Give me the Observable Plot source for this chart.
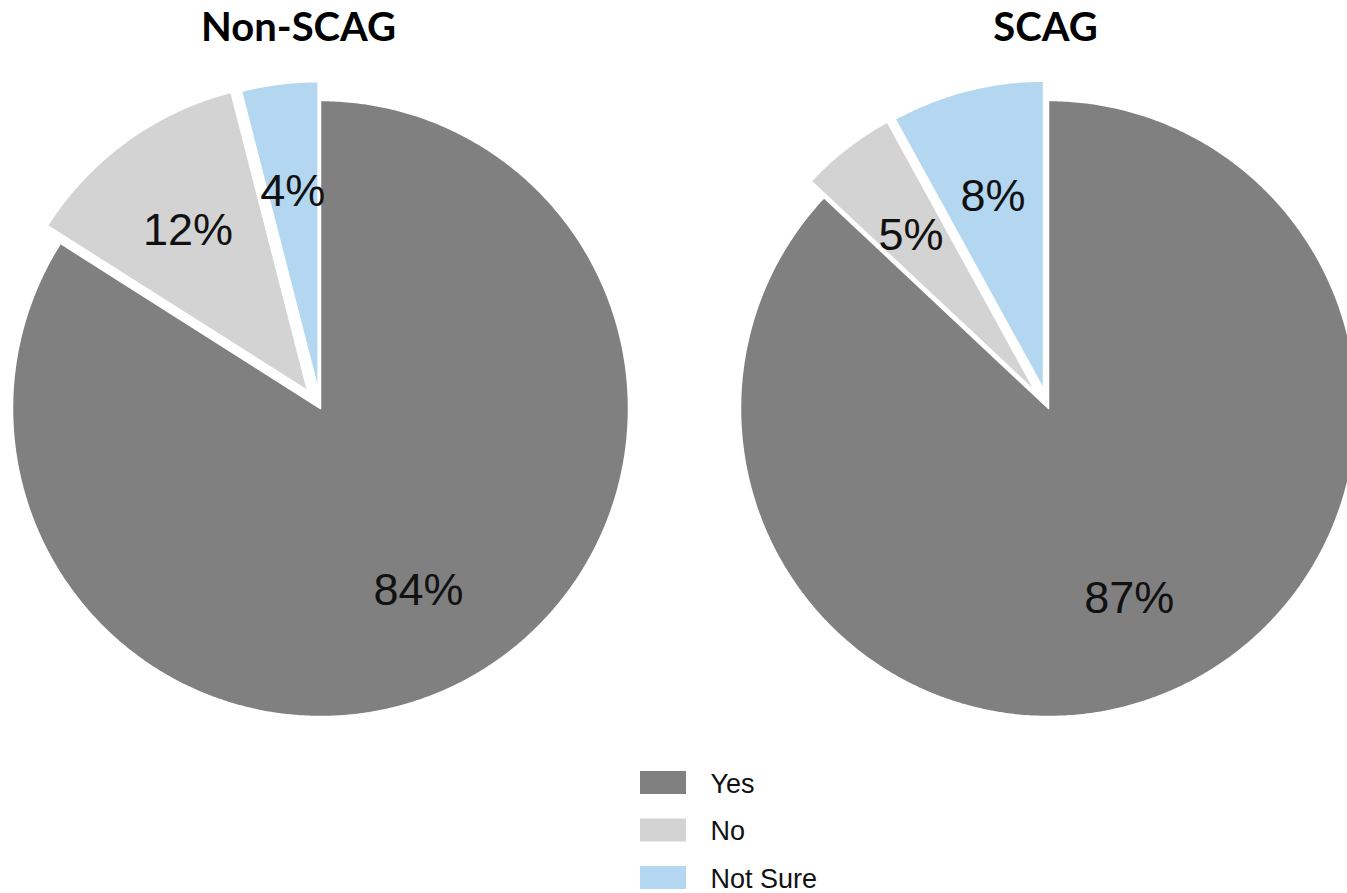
<!DOCTYPE html>
<html>
<head>
<meta charset="utf-8">
<script src="https://cdn.jsdelivr.net/npm/d3@7"></script>
<script src="https://cdn.jsdelivr.net/npm/@observablehq/plot@0.6"></script>
<style>
  html, body { margin: 0; padding: 0; background: #fff; }
  #chart svg { display: block; }
</style>
</head>
<body>
<div id="chart"></div>
<script>
// ---- data ----
const groups = ["Non-SCAG", "SCAG"];
const categories = ["Yes", "No", "Not Sure"];
const nonScagValues = [84, 12, 4];
const scagValues = [87, 5, 8];
const colors = ["#808080", "#d3d3d3", "#b3d7f0"];

// ---- layout ----
const W = 1347, H = 893;
const R = 308;
const centers = [[320, 408], [1048, 408]];
const explode = [[0, 22, 19], [0, 21, 20]];
const titleX = [298, 1045];
const titleY = 28;
const labelR = 0.66 * R;
const legendX = 640, legendW = 46, legendH = 23, legendTop = 771, legendStep = 47.5;

const seriesValues = [nonScagValues, scagValues];

// Build slice polygons
const slicePoints = [];
const sliceLabels = [];
groups.forEach((g, gi) => {
  const vals = seriesValues[gi];
  const total = d3.sum(vals);
  let acc = 0;
  vals.forEach((v, ci) => {
    const a0 = acc / total * 2 * Math.PI;
    const a1 = (acc + v) / total * 2 * Math.PI;
    acc += v;
    const mid = (a0 + a1) / 2;
    const off = explode[gi][ci];
    const cx = centers[gi][0] + off * Math.sin(mid);
    const cy = centers[gi][1] - off * Math.cos(mid);
    const key = g + "|" + categories[ci];
    slicePoints.push({key, cat: categories[ci], x: cx, y: cy});
    const n = Math.max(8, Math.ceil((a1 - a0) / (Math.PI / 360)));
    for (let i = 0; i <= n; i++) {
      const a = a0 + (a1 - a0) * i / n;
      slicePoints.push({key, cat: categories[ci], x: cx + R * Math.sin(a), y: cy - R * Math.cos(a)});
    }
    slicePoints.push({key, cat: categories[ci], x: cx, y: cy});
    sliceLabels.push({
      text: v + "%",
      x: cx + labelR * Math.sin(mid),
      y: cy - labelR * Math.cos(mid)
    });
  });
});

const titles = groups.map((g, i) => ({text: g, x: titleX[i], y: titleY}));
const legendItems = categories.map((c, i) => ({
  cat: c,
  x1: legendX, x2: legendX + legendW,
  y1: legendTop + i * legendStep, y2: legendTop + i * legendStep + legendH,
  tx: legendX + legendW + 24, ty: legendTop + i * legendStep + legendH / 2 + 1
}));

const chart = Plot.plot({
  width: W,
  height: H,
  margin: 0,
  x: {type: "identity", axis: null},
  y: {type: "identity", axis: null},
  color: {domain: categories, range: colors},
  style: {fontFamily: "'Liberation Sans', Arial, Helvetica, sans-serif", background: "#fff"},
  marks: [
    Plot.line(slicePoints, {
      x: "x", y: "y", z: "key", fill: "cat",
      stroke: "white", strokeWidth: 1.5, strokeLinejoin: "miter", curve: "linear"
    }),
    Plot.text(sliceLabels, {
      x: "x", y: "y", dy: 4, text: "text", fontSize: 45, fill: "#111"
    }),
    Plot.text(titles, {
      x: "x", y: "y", text: "text", fontSize: 40, fontWeight: "bold", fill: "#000",
      fontFamily: "Lato, 'Liberation Sans', sans-serif"
    }),
    Plot.rect(legendItems, {x1: "x1", x2: "x2", y1: "y1", y2: "y2", fill: "cat"}),
    Plot.text(legendItems, {
      x: "tx", y: "ty", text: "cat", textAnchor: "start", fontSize: 27, fill: "#111"
    })
  ]
});
document.getElementById("chart").appendChild(chart);
</script>
</body>
</html>
